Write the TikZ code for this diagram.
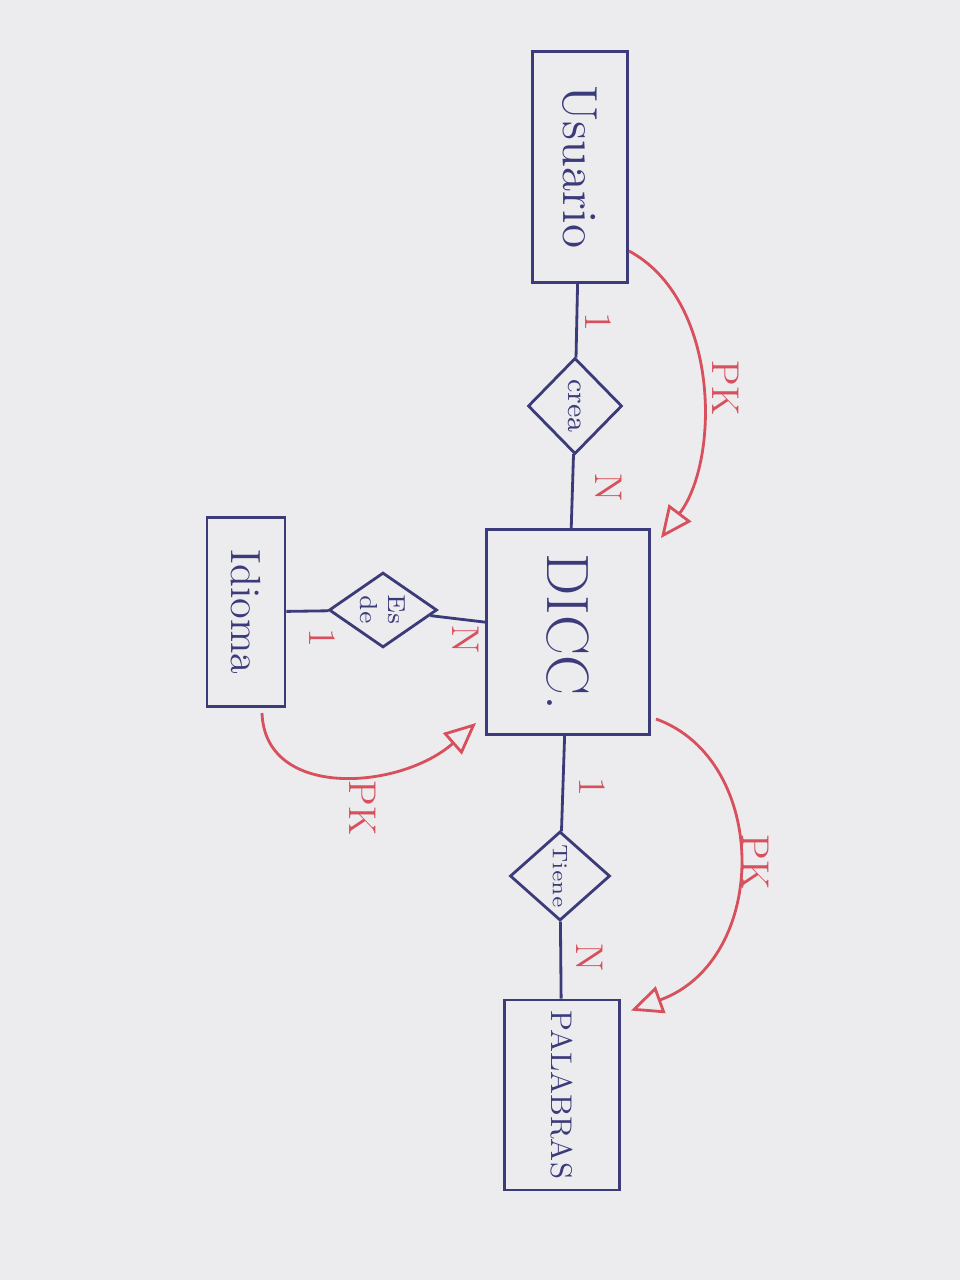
\documentclass[tikz,border=0pt]{standalone}
\usepackage{graphicx}
\usetikzlibrary{shapes.geometric,arrows.meta}
\definecolor{ink}{HTML}{3B3B7A}
\definecolor{redink}{HTML}{D8505C}
\definecolor{paper}{HTML}{ECECEF}

\begin{document}
\begin{tikzpicture}[x=0.01cm,y=-0.01cm,
    entidad/.style={draw=ink, line width=0.8pt, text=ink, inner sep=0pt},
    relacion/.style={diamond, draw=ink, line width=0.8pt, text=ink, inner sep=0pt},
    enlace/.style={draw=ink, line width=0.8pt},
    card/.style={text=redink, inner sep=1pt, font=\fontsize{11}{11}\selectfont},
    pk/.style={draw=redink, line width=0.8pt, -{Triangle[open,length=9pt,width=8pt]}}]
        \fill[paper] (0,0) rectangle (960,1280);

        % entidades
        \node[entidad, minimum width=0.95cm, minimum height=2.31cm, font=\fontsize{14}{14}\selectfont] (usuario) at (580,167) {\rotatebox{-90}{Usuario}};
        \node[entidad, minimum width=1.63cm, minimum height=2.05cm, font=\fontsize{17}{17}\selectfont] (dicc) at (568,632) {\rotatebox{-90}{DICC.}};
        \node[entidad, minimum width=0.78cm, minimum height=1.89cm, font=\fontsize{12}{12}\selectfont] (idioma) at (246,612) {\rotatebox{-90}{Idioma}};
        \node[entidad, minimum width=1.15cm, minimum height=1.90cm, font=\fontsize{8.5}{8.5}\selectfont] (palabras) at (562,1095) {\rotatebox{-90}{PALABRAS}};

        % relaciones
        \node[relacion, minimum width=0.94cm, minimum height=0.96cm, font=\fontsize{8}{8}\selectfont] (crea) at (575,406) {\rotatebox{-90}{crea}};
        \node[relacion, minimum width=1.08cm, minimum height=0.66cm, font=\fontsize{7}{7}\selectfont] (esde) at (383,610) {\rotatebox{-90}{\shortstack{Es\\de}}};
        \node[relacion, minimum width=1.00cm, minimum height=0.89cm, font=\fontsize{6}{6}\selectfont] (tiene) at (560,876) {\rotatebox{-90}{Tiene}};

        \draw[enlace] (usuario) -- (crea);
        \draw[enlace] (crea) -- (dicc);
        \draw[enlace] (idioma) -- (esde);
        \draw[enlace] (esde) -- (dicc);
        \draw[enlace] (dicc) -- (tiene);
        \draw[enlace] (tiene) -- (palabras);

        % cardinalidades
        \node[card] (c1) at (598,322) {\rotatebox{-90}{1}};
        \node[card] (c2) at (609,488) {\rotatebox{-90}{N}};
        \node[card] (c3) at (466,640) {\rotatebox{-90}{N}};
        \node[card] (c4) at (322,638) {\rotatebox{-90}{1}};
        \node[card] (c5) at (592,787) {\rotatebox{-90}{1}};
        \node[card] (c6) at (590,958) {\rotatebox{-90}{N}};

        % claves
        \draw[pk] ([yshift=0.33cm]usuario.south east) .. controls (720,300) and (720,460) .. ([shift={(10,10)}]dicc.north east);
        \draw[pk] ([shift={(5,-17)}]dicc.south east) .. controls (770,760) and (770,960) .. ([shift={(10,12)}]palabras.north east);
        \draw[pk] ([shift={(16,5)}]idioma.south) .. controls (265,800) and (400,790) .. ([shift={(-9,-13)}]dicc.south west);
        \node[card] (pk1) at (726,388) {\rotatebox{-90}{PK}};
        \node[card] (pk2) at (756,862) {\rotatebox{-90}{PK}};
        \node[card] (pk3) at (363,808) {\rotatebox{-90}{PK}};
\end{tikzpicture}
\end{document}
